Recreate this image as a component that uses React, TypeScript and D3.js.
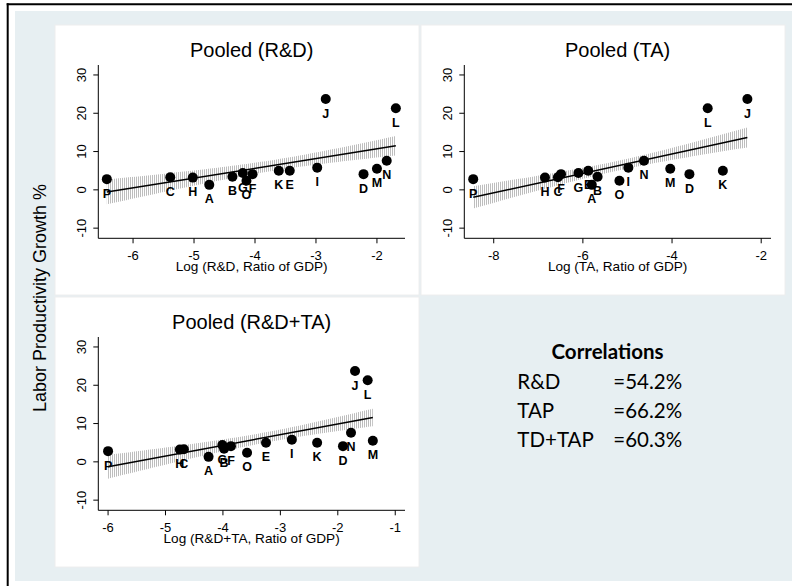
import React from "react";
import * as d3 from "d3";

// Country codes and average labour productivity growth (%)
const countries = ["A", "B", "C", "D", "E", "F", "G", "H", "I", "J", "K", "L", "M", "N", "O", "P"];
const growth = [1.3, 3.4, 3.3, 4.1, 5.0, 4.1, 4.4, 3.2, 5.8, 23.7, 5.0, 21.3, 5.5, 7.6, 2.4, 2.8];

// Log of spending as a ratio of GDP
const logRD = [-4.75, -4.37, -5.39, -2.22, -3.43, -4.04, -4.2, -5.02, -2.98, -2.84, -3.61, -1.69, -2.0, -1.84, -4.14, -6.43];
const logTA = [-5.8, -5.67, -6.56, -3.61, -5.88, -6.49, -6.1, -6.85, -4.98, -2.31, -2.86, -3.2, -4.04, -4.63, -5.18, -8.46];
const logRDTA = [-4.25, -3.98, -4.68, -1.91, -3.25, -3.86, -4.01, -4.75, -2.8, -1.7, -2.36, -1.48, -1.39, -1.77, -3.58, -6.0];

// Axis ranges and ticks
const yDomain: [number, number] = [-12.65, 32.6];
const yTicks = [-10, 0, 10, 20, 30];
const rdDomain: [number, number] = [-6.57, -1.54];
const rdTicks = [-6, -5, -4, -3, -2];
const taDomain: [number, number] = [-8.66, -1.78];
const taTicks = [-8, -6, -4, -2];
const rdtaDomain: [number, number] = [-6.17, -0.83];
const rdtaTicks = [-6, -5, -4, -3, -2, -1];

// Correlation summary
const corrLabels = ["R&D", "TAP", "TD+TAP"];
const corrValues = ["=54.2%", "=66.2%", "=60.3%"];

const AXIS_FONT = "Liberation Sans, Arial, sans-serif";
const NOTE_FONT = "Lato, Open Sans, sans-serif";

function ols(xs: number[], ys: number[]) {
  const n = xs.length;
  const mx = d3.mean(xs)!;
  const my = d3.mean(ys)!;
  let sxx = 0, sxy = 0;
  xs.forEach((x, i) => {
    sxx += (x - mx) ** 2;
    sxy += (x - mx) * (ys[i] - my);
  });
  const b = sxy / sxx;
  const a = my - b * mx;
  let sse = 0;
  xs.forEach((x, i) => {
    sse += (ys[i] - (a + b * x)) ** 2;
  });
  const s = Math.sqrt(sse / (n - 2));
  const se = (x: number) => s * Math.sqrt(1 / n + (x - mx) ** 2 / sxx);
  return { a, b, se };
}

type PanelProps = {
  x0: number;
  y0: number;
  title: string;
  xLabel: string;
  xs: number[];
  xDomain: [number, number];
  xTicks: number[];
};

function Panel({ x0, y0, title, xLabel, xs, xDomain, xTicks }: PanelProps) {
  const left = x0 + 43.3;
  const right = x0 + 350;
  const top = y0 + 40;
  const bottom = y0 + 213.3;
  const xScale = d3.scaleLinear().domain(xDomain).range([left, right]);
  const yScale = d3.scaleLinear().domain(yDomain).range([bottom, top]);

  const fit = ols(xs, growth);
  const [xmin, xmax] = d3.extent(xs) as [number, number];
  const grid = d3.range(0, 61).map((i) => xmin + ((xmax - xmin) * i) / 60);
  const band = d3
    .area<number>()
    .x((x) => xScale(x))
    .y0((x) => yScale(fit.a + fit.b * x - fit.se(x)))
    .y1((x) => yScale(fit.a + fit.b * x + fit.se(x)))(grid);
  const line = d3
    .line<number>()
    .x((x) => xScale(x))
    .y((x) => yScale(fit.a + fit.b * x))([xmin, xmax]);

  return (
    <g>
      <rect x={x0} y={y0} width={364} height={270} fill="#ffffff" stroke="#eeeeee" strokeWidth={1} />
      <text
        x={(left + right) / 2}
        y={y0 + 32}
        textAnchor="middle"
        fontFamily={AXIS_FONT}
        fontSize={20}
        fill="#000"
      >
        {title}
      </text>

      <path d={band ?? ""} fill="url(#hatch)" />
      <path d={line ?? ""} fill="none" stroke="#000" strokeWidth={1.5} />

      {xs.map((x, i) => (
        <circle key={"p" + i} cx={xScale(x)} cy={yScale(growth[i])} r={5} fill="#000" />
      ))}
      {xs.map((x, i) => (
        <text
          key={"l" + i}
          x={xScale(x)}
          y={yScale(growth[i]) + 18.5}
          textAnchor="middle"
          fontFamily={AXIS_FONT}
          fontWeight="bold"
          fontSize={12.5}
          fill="#000"
        >
          {countries[i]}
        </text>
      ))}

      {/* axes */}
      <line x1={left} x2={left} y1={top} y2={bottom} stroke="#000" strokeWidth={1} />
      <line x1={left} x2={right} y1={bottom} y2={bottom} stroke="#000" strokeWidth={1} />
      {yTicks.map((t) => (
        <g key={"yt" + t}>
          <line x1={left - 5} x2={left} y1={yScale(t)} y2={yScale(t)} stroke="#000" strokeWidth={1} />
          <text
            transform={`translate(${left - 12},${yScale(t)}) rotate(-90)`}
            textAnchor="middle"
            fontFamily={AXIS_FONT}
            fontSize={13}
            fill="#000"
          >
            {t}
          </text>
        </g>
      ))}
      {xTicks.map((t) => (
        <g key={"xt" + t}>
          <line x1={xScale(t)} x2={xScale(t)} y1={bottom} y2={bottom + 5} stroke="#000" strokeWidth={1} />
          <text
            x={xScale(t)}
            y={bottom + 22}
            textAnchor="middle"
            fontFamily={AXIS_FONT}
            fontSize={13}
            fill="#000"
          >
            {t}
          </text>
        </g>
      ))}
      <text
        x={(left + right) / 2}
        y={bottom + 32.5}
        textAnchor="middle"
        fontFamily={AXIS_FONT}
        fontSize={13.6}
        fill="#000"
      >
        {xLabel}
      </text>
    </g>
  );
}

export default function App() {
  return (
    <svg
      width={792}
      height={586}
      viewBox="0 0 792 586"
      style={{ position: "absolute", left: 0, top: 0, background: "#ffffff" }}
    >
      <defs>
        <pattern id="hatch" width={2} height={4} patternUnits="userSpaceOnUse">
          <rect x={0} y={0} width={1} height={4} fill="#bdbdbd" />
        </pattern>
      </defs>

      {/* frame */}
      <rect x={15} y={11} width={777} height={570} fill="#e7eff2" />
      <line x1={6.7} x2={792} y1={4.3} y2={4.3} stroke="#000" strokeWidth={2} />
      <line x1={7.7} x2={7.7} y1={3.3} y2={586} stroke="#000" strokeWidth={2} />

      <Panel x0={55} y0={25} title="Pooled (R&D)" xLabel="Log (R&D, Ratio of GDP)" xs={logRD} xDomain={rdDomain} xTicks={rdTicks} />
      <Panel x0={421} y0={25} title="Pooled (TA)" xLabel="Log (TA, Ratio of GDP)" xs={logTA} xDomain={taDomain} xTicks={taTicks} />
      <Panel x0={55} y0={297} title="Pooled (R&D+TA)" xLabel="Log (R&D+TA, Ratio of GDP)" xs={logRDTA} xDomain={rdtaDomain} xTicks={rdtaTicks} />

      <text
        transform="translate(46,298) rotate(-90)"
        textAnchor="middle"
        fontFamily={AXIS_FONT}
        fontSize={18}
        fill="#000"
      >
        Labor Productivity Growth %
      </text>

      {/* correlation summary */}
      <text x={607.5} y={359.3} textAnchor="middle" fontFamily={NOTE_FONT} fontWeight="bold" fontSize={20.5} fill="#000">
        Correlations
      </text>
      {corrLabels.map((lab, i) => (
        <g key={lab}>
          <text x={517.3} y={389.3 + i * 28.7} fontFamily={NOTE_FONT} fontSize={20.5} fill="#000">
            {lab}
          </text>
          <text x={613.3} y={389.3 + i * 28.7} fontFamily={NOTE_FONT} fontSize={20.5} fill="#000">
            {corrValues[i]}
          </text>
        </g>
      ))}
    </svg>
  );
}
